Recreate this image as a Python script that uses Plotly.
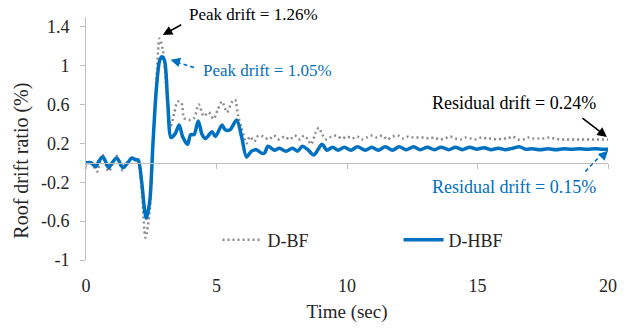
import plotly.graph_objects as go

# ---- data ----
t_bf = [0, 0.2, 0.43, 0.62, 0.87, 1.18, 1.40, 1.6, 1.81, 2.0, 2.13, 2.28, 2.44, 2.57, 2.69, 2.82,
        2.95, 3.1, 3.25, 3.38, 3.51, 3.65, 3.76, 3.95, 4.14, 4.32, 4.51, 4.70, 4.89, 5.05, 5.21,
        5.40, 5.58, 5.71, 5.83, 5.96, 6.15, 6.28, 6.45, 6.6, 6.8, 7.0, 7.2, 7.4, 7.6, 7.8, 8.0,
        8.2, 8.35, 8.5, 8.62, 8.8, 8.92, 9.05, 9.2, 9.4, 9.6, 9.8, 10.0, 10.2, 10.4, 10.55, 10.75,
        10.95, 11.15, 11.35, 11.55, 11.75, 11.95, 12.15, 12.35, 12.55, 12.75, 12.95, 13.15, 13.35,
        13.55, 13.75, 13.95, 14.15, 14.35, 14.55, 14.75, 14.95, 15.15, 15.35, 15.55, 15.75, 15.95,
        16.15, 16.35, 16.55, 16.75, 16.95, 17.15, 17.35, 17.55, 17.75, 17.95, 18.15, 18.35, 18.55,
        18.75, 18.95, 19.15, 19.35, 19.55, 19.75, 20.0]
v_bf = [0.0, 0.0, -0.09, 0.09, -0.09, 0.07, -0.08, 0.01, 0.05, 0.0, -0.25, -0.77, -0.5, 0.2, 0.8, 1.28,
        1.15, 0.7, 0.38, 0.51, 0.63, 0.62, 0.46, 0.44, 0.46, 0.60, 0.48, 0.52, 0.45, 0.55, 0.63,
        0.52, 0.62, 0.65, 0.48, 0.36, 0.20, 0.27, 0.22, 0.28, 0.27, 0.24, 0.28, 0.24, 0.27, 0.24, 0.28,
        0.24, 0.28, 0.24, 0.19, 0.31, 0.36, 0.29, 0.24, 0.27, 0.28, 0.25, 0.27, 0.25, 0.27, 0.24, 0.26,
        0.28, 0.26, 0.28, 0.24, 0.27, 0.28, 0.25, 0.27, 0.26, 0.26, 0.26, 0.25, 0.26, 0.24,
        0.25, 0.27, 0.25, 0.24, 0.26, 0.25, 0.24, 0.26, 0.25, 0.25, 0.24, 0.25,
        0.25, 0.27, 0.24, 0.24, 0.26, 0.25, 0.25, 0.25, 0.26, 0.25, 0.24, 0.24, 0.24,
        0.24, 0.24, 0.24, 0.24, 0.24, 0.24, 0.24]

t_hbf = [0, 0.2, 0.37, 0.5, 0.65, 0.87, 1.0, 1.18, 1.41, 1.6, 1.75, 1.9, 2.0, 2.13, 2.25, 2.31,
         2.44, 2.57, 2.69, 2.82, 2.91, 3.01, 3.13, 3.26, 3.42, 3.57, 3.70, 3.89, 4.01, 4.14, 4.30,
         4.45, 4.58, 4.83, 4.96, 5.21, 5.33, 5.52, 5.77, 5.96, 6.15, 6.34, 6.53, 6.72, 6.84, 6.97,
         7.22, 7.41, 7.66, 7.91, 8.10, 8.29, 8.48, 8.73, 9.04, 9.23, 9.45, 9.65, 9.9, 10.15, 10.4,
         10.7, 10.95, 11.2, 11.47, 11.74, 12.0, 12.27, 12.55, 12.8, 13.08, 13.35, 13.6, 13.9, 14.15,
         14.42, 14.7, 14.95, 15.25, 15.5, 15.8, 16.05, 16.35, 16.6, 16.85, 17.1, 17.4, 17.7, 18.0,
         18.3, 18.6, 18.9, 19.2, 19.5, 19.8, 20.0]
v_hbf = [0.0, 0.0, -0.04, 0.02, 0.06, -0.05, 0.0, 0.05, -0.05, 0.0, 0.05, 0.03, 0.03, -0.19, -0.50, -0.57,
         -0.40, 0.22, 0.74, 1.05, 1.09, 1.05, 0.63, 0.26, 0.30, 0.39, 0.27, 0.19, 0.29, 0.29, 0.43,
         0.29, 0.25, 0.32, 0.27, 0.39, 0.34, 0.34, 0.44, 0.27, 0.06, 0.12, 0.135, 0.10, 0.10, 0.17,
         0.13, 0.15, 0.12, 0.15, 0.12, 0.17, 0.14, 0.08, 0.19, 0.13, 0.16, 0.13, 0.16, 0.13, 0.165,
         0.13, 0.16, 0.13, 0.165, 0.13, 0.165, 0.135, 0.165, 0.135, 0.16, 0.135, 0.16, 0.135, 0.16,
         0.135, 0.16, 0.14, 0.155, 0.135, 0.15, 0.135, 0.15, 0.165, 0.14, 0.145, 0.135, 0.145, 0.135,
         0.145, 0.14, 0.145, 0.14, 0.145, 0.14, 0.14]

x_ticks = [0, 5, 10, 15, 20]
y_ticks = [-1, -0.6, -0.2, 0.2, 0.6, 1, 1.4]
y_tick_labels = ["-1", "-0.6", "-0.2", "0.2", "0.6", "1", "1.4"]

FONT = "Liberation Serif, Times New Roman, serif"
BLUE = "#0070C0"
GRAY = "#8c8c8c"
AX = "#bfbfbf"
TXT = "#262626"

fig = go.Figure()
fig.add_trace(go.Scatter(x=t_bf, y=v_bf, mode="lines", name="D-BF",
                         line=dict(color=GRAY, width=2.5, dash="2px,3px", shape="spline", smoothing=0.8)))
fig.add_trace(go.Scatter(x=t_hbf, y=v_hbf, mode="lines", name="D-HBF",
                         line=dict(color=BLUE, width=3.5, shape="spline", smoothing=0.8)))

# axis line at zero with ticks (overlay axis)
fig.add_trace(go.Scatter(x=[0, 20], y=[0, 0], xaxis="x2", mode="lines",
                         line=dict(color="rgba(0,0,0,0)"), showlegend=False, hoverinfo="skip"))

fig.update_layout(
    width=628, height=329,
    margin=dict(l=86, r=11, t=17, b=69),
    paper_bgcolor="white", plot_bgcolor="white",
    font=dict(family=FONT, size=18, color=TXT),
    xaxis=dict(range=[0, 20], tickvals=x_ticks, showgrid=False, zeroline=False,
               showline=False, ticks="", ticklabelstandoff=13,
               tickfont=dict(size=18, color=TXT),
               title=dict(text="Time (sec)", font=dict(size=19, color=TXT), standoff=9)),
    xaxis2=dict(range=[0, 20], tickvals=x_ticks, overlaying="x", anchor="free", position=0.4,
                showline=True, linecolor=AX, linewidth=1, ticks="outside", ticklen=5,
                tickcolor=AX, showticklabels=False, showgrid=False, zeroline=False),
    yaxis=dict(range=[-1, 1.5], tickvals=y_ticks, ticktext=y_tick_labels, showgrid=False,
               zeroline=False, showline=True, linecolor=AX, linewidth=1, ticks="outside",
               ticklen=5, tickcolor=AX, ticklabelstandoff=7,
               tickfont=dict(size=18, color=TXT)),
    legend=dict(orientation="h", x=0.252, y=0.082, xanchor="left", yanchor="middle",
                bgcolor="rgba(0,0,0,0)", entrywidth=126, entrywidthmode="pixels",
                font=dict(size=18, color=TXT), itemwidth=40),
    showlegend=True,
)

# y-axis title as annotation
fig.add_annotation(text="Roof drift ratio (%)", xref="paper", yref="paper",
                   x=-0.124, y=0.41, xanchor="center", yanchor="middle", textangle=-90,
                   showarrow=False, font=dict(size=20, color=TXT))

# text annotations
fig.add_annotation(text="Peak drift = 1.26%", x=6.4, yref="paper", y=1.012, yanchor="middle",
                   showarrow=False, font=dict(size=17, color="#000000"))
fig.add_annotation(text="Peak drift = 1.05%", x=6.97, y=0.95, yanchor="middle", showarrow=False,
                   font=dict(size=17, color=BLUE))
fig.add_annotation(text="Residual drift = 0.24%", x=16.4, y=0.62, yanchor="middle", showarrow=False,
                   font=dict(size=18, color="#000000"))
fig.add_annotation(text="Residual drift = 0.15%", x=16.4, y=-0.25, yanchor="middle", showarrow=False,
                   font=dict(size=18, color=BLUE))

# arrows
fig.add_annotation(x=2.94, y=1.315, ax=20, ay=-11, text="", showarrow=True,
                   arrowhead=2, arrowsize=1.2, arrowwidth=1.6, arrowcolor="#000000")
fig.add_annotation(x=19.96, y=0.266, ax=-26, ay=-20, text="", showarrow=True,
                   arrowhead=2, arrowsize=1.2, arrowwidth=1.6, arrowcolor="#000000")

# dashed blue arrows: dashed shaft + short arrowhead
fig.add_shape(type="line", x0=4.14, y0=0.98, x1=3.35, y1=1.045,
              line=dict(color=BLUE, width=1.6, dash="4px,3px"))
fig.add_annotation(x=3.24, y=1.06, ax=7, ay=2, text="", showarrow=True,
                   arrowhead=2, arrowsize=1.2, arrowwidth=1.6, arrowcolor=BLUE)
fig.add_shape(type="line", x0=19.13, y0=-0.09, x1=19.8, y1=0.1,
              line=dict(color=BLUE, width=1.6, dash="4px,3px"))
fig.add_annotation(x=20.0, y=0.125, ax=-6, ay=6, text="", showarrow=True,
                   arrowhead=2, arrowsize=1.2, arrowwidth=1.6, arrowcolor=BLUE)

fig.write_html("out.html")
